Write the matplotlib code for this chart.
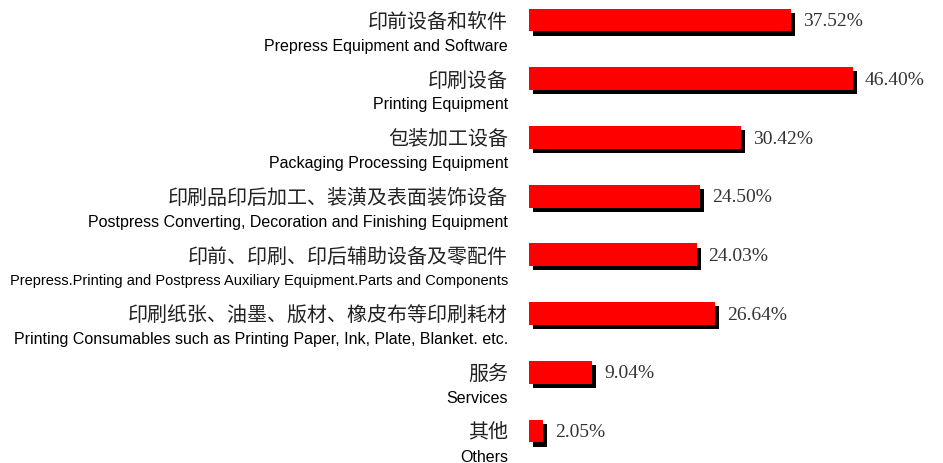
"""Barras horizontales con sombra: participación por categoría de expositores."""

import matplotlib
import matplotlib.pyplot as plt
import matplotlib.patheffects as pe

matplotlib.use("Agg")

categorias_cn = [
    "印前设备和软件",
    "印刷设备",
    "包装加工设备",
    "印刷品印后加工、装潢及表面装饰设备",
    "印前、印刷、印后辅助设备及零配件",
    "印刷纸张、油墨、版材、橡皮布等印刷耗材",
    "服务",
    "其他",
]
categorias_en = [
    "Prepress Equipment and Software",
    "Printing Equipment",
    "Packaging Processing Equipment",
    "Postpress Converting, Decoration and Finishing Equipment",
    "Prepress.Printing and Postpress Auxiliary Equipment.Parts and Components",
    "Printing Consumables such as Printing Paper, Ink, Plate, Blanket. etc.",
    "Services",
    "Others",
]
porcentajes = [37.52, 46.40, 30.42, 24.50, 24.03, 26.64, 9.04, 2.05]

fig = plt.figure(figsize=(9.43, 4.64), dpi=100)
ax = fig.add_axes([529 / 943, 0, 1 - 529 / 943, 1])

y = list(range(len(porcentajes)))
barras = ax.barh(y, porcentajes, height=0.39, color="#ff0000", linewidth=0)
for b in barras:
    b.set_path_effects([
        pe.SimplePatchShadow(offset=(3, -3), shadow_rgbFace="black", alpha=1.0),
        pe.Normal(),
    ])

ax.set_xlim(0, (943 - 529) / 6.98)
ax.set_ylim(7.545, -0.358)
ax.axis("off")

renderer = fig.canvas.get_renderer()
ancho_max = 496  # px disponibles para la etiqueta en inglés

for i, valor in enumerate(porcentajes):
    ax.annotate(f"{valor:.2f}%", xy=(valor, i), xytext=(8.5, -0.5),
                textcoords="offset points", ha="left", va="center",
                fontsize=14, family="Liberation Serif", color="#333333")
    ax.annotate(categorias_cn[i], xy=(0, i), xycoords=("axes fraction", "data"),
                xytext=(-15, -1), textcoords="offset points", ha="right",
                va="center", fontsize=14.4, fontweight="light",
                family=["Noto Sans CJK SC", "DejaVu Sans"], color="#222222")
    t = ax.annotate(categorias_en[i], xy=(0, i), xycoords=("axes fraction", "data"),
                    xytext=(-15, -18), textcoords="offset points", ha="right",
                    va="center", fontsize=11.5, family="Liberation Sans", color="black")
    ancho = t.get_window_extent(renderer).width
    if ancho > ancho_max:
        t.set_fontsize(11.5 * ancho_max / ancho)

fig.savefig("out.png", dpi=100)
plt.close(fig)
